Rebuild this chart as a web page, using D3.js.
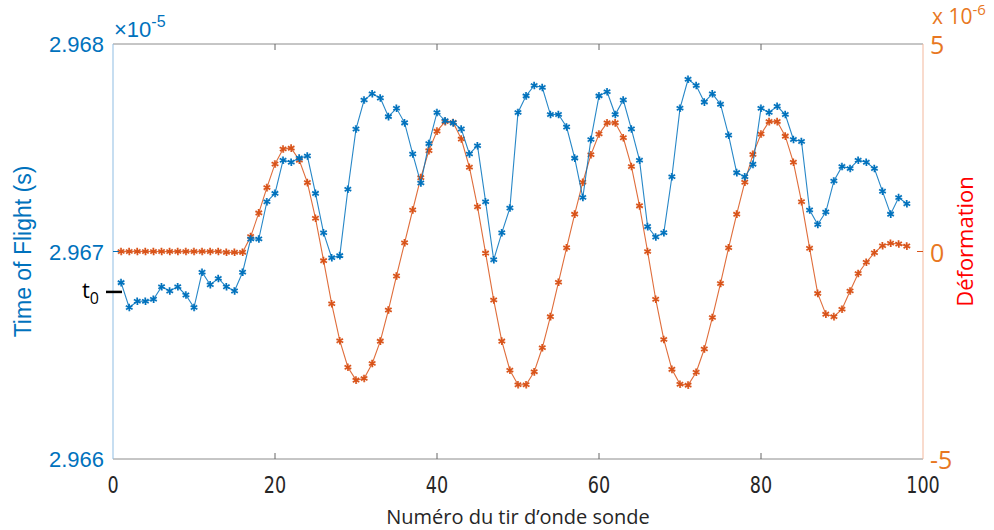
<!DOCTYPE html>
<html><head><meta charset="utf-8">
<script src="https://cdn.jsdelivr.net/npm/d3@7"></script>
<style>body{margin:0;background:#fff}</style>
</head><body><svg id="c" width="994" height="530"></svg>
<script>
const shots = d3.range(1, 99);
const timeOfFlight = [2.96685,2.96673,2.96676,2.96676,2.96677,2.96683,2.96681,2.96683,2.96679,2.96673,
2.96690,2.96684,2.96687,2.96683,2.96681,2.96690,2.96706,2.96706,2.96724,2.96728,
2.96744,2.96743,2.96745,2.96746,2.96728,2.96709,2.96697,2.96698,2.96730,2.96759,
2.96773,2.96776,2.96774,2.96765,2.96769,2.96762,2.96747,2.96733,2.96752,2.96767,
2.96763,2.96762,2.96759,2.96747,2.96751,2.96724,2.96696,2.96709,2.96721,2.96767,
2.96775,2.96780,2.96779,2.96766,2.96766,2.96760,2.96745,2.96726,2.96754,2.96775,
2.96777,2.96766,2.96773,2.96759,2.96744,2.96712,2.96707,2.96709,2.96736,2.96769,
2.96783,2.96780,2.96772,2.96776,2.96771,2.96756,2.96738,2.96736,2.96742,2.96769,
2.96767,2.96770,2.96766,2.96754,2.96753,2.96720,2.96713,2.96719,2.96734,2.96741,
2.96740,2.96744,2.96743,2.96740,2.96729,2.96718,2.96726,2.96723];
const deformation = [0,0,0,0,0,0,0,0,0,0,
0,0,0,-0.02,-0.02,-0.02,0.36,0.93,1.54,2.11,
2.47,2.49,2.2,1.66,0.8,-0.22,-1.26,-2.15,-2.79,-3.1,
-3.06,-2.7,-2.16,-1.41,-0.59,0.21,1.0,1.78,2.43,2.9,
3.13,3.11,2.71,2.03,1.08,-0.04,-1.17,-2.16,-2.86,-3.21,
-3.21,-2.9,-2.32,-1.57,-0.74,0.09,0.9,1.67,2.33,2.83,
3.1,3.1,2.74,2.05,1.1,0.0,-1.15,-2.12,-2.84,-3.2,
-3.22,-2.91,-2.35,-1.59,-0.77,0.09,0.9,1.67,2.34,2.83,
3.13,3.13,2.78,2.15,1.2,0.08,-1.01,-1.51,-1.57,-1.39,
-0.95,-0.53,-0.26,-0.03,0.14,0.2,0.18,0.13];
const xTicks = [0,20,40,60,80,100];
const leftTicks = [2.966,2.967,2.968];
const rightTicks = [-5,0,5];
const t0Value = 2.96681;

const svg = d3.select("#c");
const L = 113, R = 923, T = 44, B = 459;
const x = d3.scaleLinear().domain([0,100]).range([L,R]);
const yL = d3.scaleLinear().domain([2.966,2.968]).range([B,T]);
const yR = d3.scaleLinear().domain([-5,5]).range([B,T]);

const blue = "#0072BD", orange = "#D95319";

// frame
svg.append("line").attr("x1",L).attr("x2",R).attr("y1",T).attr("y2",T).attr("stroke","#8c8c8c");
svg.append("line").attr("x1",L).attr("x2",R).attr("y1",B).attr("y2",B).attr("stroke","#8c8c8c");
svg.append("line").attr("x1",L).attr("x2",L).attr("y1",T).attr("y2",B).attr("stroke","#8fbde3");
svg.append("line").attr("x1",R).attr("x2",R).attr("y1",T).attr("y2",B).attr("stroke","#f3b79c");

// x ticks
xTicks.forEach(t=>{
  if(t>0 && t<100){
    svg.append("line").attr("x1",x(t)).attr("x2",x(t)).attr("y1",B).attr("y2",B-6).attr("stroke","#666");
    svg.append("line").attr("x1",x(t)).attr("x2",x(t)).attr("y1",T).attr("y2",T+6).attr("stroke","#666");
  }
  svg.append("text").attr("x",x(t)).attr("y",B+34).attr("text-anchor","middle")
    .attr("font-family","DejaVu Sans Condensed, Liberation Sans Narrow, sans-serif").attr("font-stretch","condensed")
    .attr("font-size",23).attr("fill","#262626")
    .attr("transform",`translate(${x(t)},0) scale(0.85,1) translate(${-x(t)},0)`).text(t);
});
svg.append("text").attr("x",(L+R)/2).attr("y",B+65).attr("text-anchor","middle")
  .attr("font-family","Open Sans, sans-serif").attr("font-size",20).attr("fill","#262626")
  .text("Numéro du tir d’onde sonde");

// left ticks
leftTicks.forEach(t=>{
  if(t>2.966 && t<2.968)
    svg.append("line").attr("x1",L).attr("x2",L+6).attr("y1",yL(t)).attr("y2",yL(t)).attr("stroke",blue);
  svg.append("text").attr("x",104).attr("y",yL(t)+8).attr("text-anchor","end")
    .attr("font-family","Liberation Sans, Arial, sans-serif").attr("font-size",22).attr("fill",blue)
    .text(t.toFixed(3));
});
const ex1 = svg.append("text").attr("x",114).attr("y",37).attr("font-family","Liberation Sans, Arial, sans-serif")
  .attr("font-size",22).attr("fill",blue);
ex1.append("tspan").text("×10");
ex1.append("tspan").attr("dy",-10).attr("font-size",16).text("-5");
svg.append("text").attr("transform",`translate(31,${(T+B)/2}) rotate(-90)`).attr("text-anchor","middle")
  .attr("font-family","Liberation Sans, Arial, sans-serif").attr("font-size",23).attr("fill",blue)
  .text("Time of Flight (s)");

// right ticks
const orangeTxt = "#E87722";
rightTicks.forEach(t=>{
  if(t>-5 && t<5)
    svg.append("line").attr("x1",R).attr("x2",R-6).attr("y1",yR(t)).attr("y2",yR(t)).attr("stroke",orange);
  svg.append("text").attr("x",930).attr("y",yR(t)+10).attr("font-family","Open Sans, sans-serif")
    .attr("font-size",25).attr("fill",orangeTxt).text(t);
});
const ex2 = svg.append("text").attr("x",932).attr("y",24).attr("font-family","Open Sans, sans-serif")
  .attr("font-size",21).attr("fill",orangeTxt);
ex2.append("tspan").text("x 10");
ex2.append("tspan").attr("dy",-9).attr("font-size",15).text("-6");
svg.append("text").attr("transform",`translate(973,${(T+B)/2 - 10}) rotate(-90)`).attr("text-anchor","middle")
  .attr("font-family","Open Sans, sans-serif").attr("font-size",22).attr("fill","#FF0000")
  .text("Déformation");

// t0 marker
svg.append("line").attr("x1",106).attr("x2",122).attr("y1",yL(t0Value)+1).attr("y2",yL(t0Value)+1)
  .attr("stroke","#000").attr("stroke-width",2.5);
const t0 = svg.append("text").attr("x",82).attr("y",yL(t0Value)+7).attr("font-family","Open Sans, sans-serif")
  .attr("font-size",22).attr("fill","#000");
t0.append("tspan").text("t");
t0.append("tspan").attr("dy",6).attr("font-size",16).text("0");

// series
const sym = d3.symbol().type(d3.symbolAsterisk).size(40);
function series(vals, y, color){
  const pts = shots.map((s,i)=>[x(s), y(vals[i])]);
  svg.append("path").attr("d", d3.line()(pts)).attr("fill","none").attr("stroke",color).attr("stroke-width",1.1).attr("opacity",0.85);
  const g = svg.append("g");
  g.selectAll("path.a").data(pts).join("path").attr("class","a")
    .attr("transform",d=>`translate(${d[0]},${d[1]})`).attr("d",sym())
    .attr("fill","none").attr("stroke",color).attr("stroke-width",1.5);
  g.selectAll("path.b").data(pts).join("path").attr("class","b")
    .attr("transform",d=>`translate(${d[0]},${d[1]}) rotate(45)`).attr("d",sym())
    .attr("fill","none").attr("stroke",color).attr("stroke-width",1).attr("opacity",0.5);
}
series(deformation, yR, orange);
series(timeOfFlight, yL, blue);
</script></body></html>
